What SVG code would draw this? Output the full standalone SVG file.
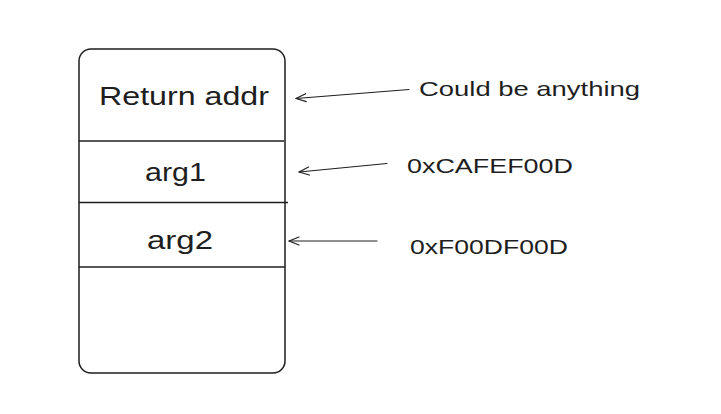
<svg xmlns="http://www.w3.org/2000/svg" width="721" height="414" viewBox="0 0 721 414">
<defs>
<marker id="ah" viewBox="0 0 12 10" refX="11" refY="5" markerWidth="12" markerHeight="10" markerUnits="userSpaceOnUse" orient="auto">
<path d="M1,1 L11,5 L1,9" fill="none" stroke="#1e1e1e" stroke-width="1.2" stroke-linecap="round" stroke-linejoin="round"/>
</marker>
</defs>
<style>
.box{fill:#fff;stroke:#1e1e1e;stroke-width:1.5}
.div{stroke:#1e1e1e;stroke-width:1.4;fill:none}
.arr{stroke:#1e1e1e;stroke-width:1.2;fill:none;stroke-linecap:round}
.t{font-family:"Liberation Sans",Arial,sans-serif;fill:#1e1e1e}
.big{font-size:25px}
.small{font-size:21px}
</style>
<rect width="721" height="414" fill="#fff"/>
<g id="stack">
<rect class="box" x="79" y="49" width="206" height="324" rx="12" ry="12"/>
</g>
<g id="return-addr">
<text class="t big" x="99" y="105" textLength="170" lengthAdjust="spacingAndGlyphs">Return addr</text>
</g>
<g id="arg1">
<line class="div" x1="79" y1="141" x2="284" y2="141"/>
<text class="t big" x="145" y="181" textLength="61" lengthAdjust="spacingAndGlyphs">arg1</text>
</g>
<g id="arg2">
<line class="div" x1="79" y1="202.5" x2="288" y2="202.5"/>
<text class="t big" x="147" y="249" textLength="66" lengthAdjust="spacingAndGlyphs">arg2</text>
</g>
<g id="empty">
<line class="div" x1="79" y1="267" x2="285" y2="267"/>
</g>
<g id="label-anything">
<text class="t small" x="419" y="96" textLength="221" lengthAdjust="spacingAndGlyphs">Could be anything</text>
</g>
<g id="label-cafe">
<text class="t small" x="407" y="173" textLength="166" lengthAdjust="spacingAndGlyphs">0xCAFEF00D</text>
</g>
<g id="label-food">
<text class="t small" x="410" y="254" textLength="158" lengthAdjust="spacingAndGlyphs">0xF00DF00D</text>
</g>
<g id="connectors">
<path class="arr" d="M409,89.5 L296,98.5" marker-end="url(#ah)"/>
<path class="arr" d="M387,163.5 L299,172" marker-end="url(#ah)"/>
<path class="arr" d="M377,241 L289,241" marker-end="url(#ah)"/>
</g>
</svg>
